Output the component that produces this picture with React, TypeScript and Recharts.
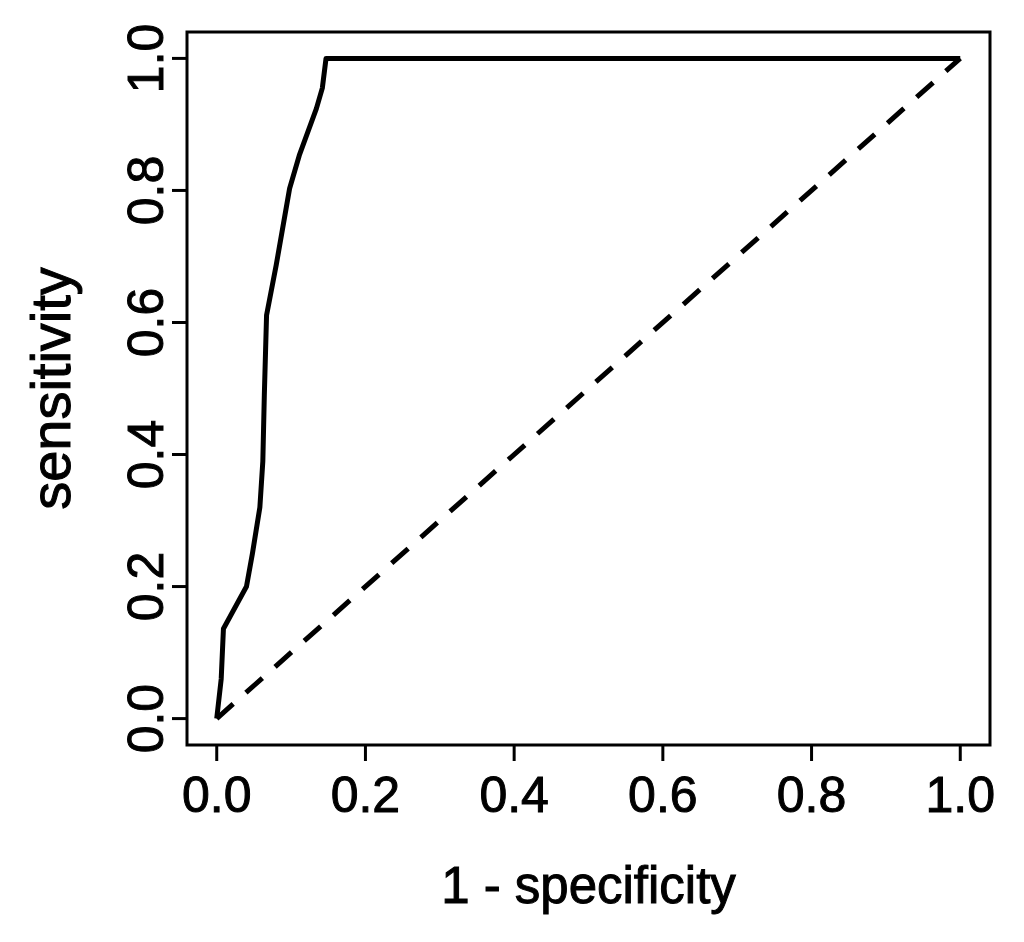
import React from 'react';
import { ComposedChart, Line, XAxis, YAxis, ReferenceArea } from 'recharts';

// ROC curve
const rocX = [0, 0.006, 0.009, 0.04, 0.048, 0.058, 0.062, 0.064, 0.067, 0.08, 0.098, 0.111, 0.134, 0.142, 0.147, 1.0];
const rocY = [0, 0.06, 0.136, 0.2, 0.25, 0.32, 0.39, 0.49, 0.611, 0.687, 0.803, 0.853, 0.924, 0.955, 1.0, 1.0];

const diagX = [0, 1];
const diagY = [0, 1];

const axisTicks = [0, 0.2, 0.4, 0.6, 0.8, 1.0];
const axisDomain = [-0.04, 1.04];

const xTitle = '1 - specificity';
const yTitle = 'sensitivity';

const FONT = '"Liberation Sans", Arial, Helvetica, sans-serif';
// the source is a blurry upscale, so glyphs read a little heavier than regular
const textInk = { fill: '#000', stroke: '#000', strokeWidth: 1 };

const rocData = rocX.map((x, i) => ({ x, y: rocY[i] }));
const diagData = diagX.map((x, i) => ({ x, y: diagY[i] }));

const XTick = ({ x, y, payload }: any) => (
  <text x={x} y={y} dy={49} textAnchor="middle" fontSize={50} fontFamily={FONT} {...textInk}>
    {Number(payload.value).toFixed(1)}
  </text>
);

const YTick = ({ x, y, payload }: any) => (
  <text
    x={x - 7}
    y={y}
    transform={`rotate(-90, ${x - 7}, ${y})`}
    textAnchor="middle"
    fontSize={50}
    fontFamily={FONT}
    {...textInk}
  >
    {Number(payload.value).toFixed(1)}
  </text>
);

export default function App() {
  return (
    <div style={{ position: 'absolute', left: 0, top: 0, background: '#fff' }}>
      <ComposedChart width={1024} height={942} margin={{ top: 32, right: 34, left: 0, bottom: 0 }}>
        <XAxis
          type="number"
          dataKey="x"
          domain={axisDomain}
          ticks={axisTicks}
          allowDataOverflow
          height={197}
          axisLine={false}
          tickSize={16}
          tickLine={{ stroke: '#000', strokeWidth: 3 }}
          tick={<XTick />}
          label={{
            content: ({ viewBox }: any) => (
              <text
                x={viewBox.x + viewBox.width / 2}
                y={903}
                textAnchor="middle"
                fontSize={51}
                fontFamily={FONT}
                {...textInk}
              >
                {xTitle}
              </text>
            ),
          }}
        />
        <YAxis
          type="number"
          dataKey="y"
          domain={axisDomain}
          ticks={axisTicks}
          allowDataOverflow
          width={187}
          axisLine={false}
          tickSize={15}
          tickLine={{ stroke: '#000', strokeWidth: 3 }}
          tick={<YTick />}
          label={{
            content: ({ viewBox }: any) => {
              const cy = viewBox.y + viewBox.height / 2;
              return (
                <text
                  x={70}
                  y={cy}
                  transform={`rotate(-90, 70, ${cy})`}
                  textAnchor="middle"
                  fontSize={56}
                  fontFamily={FONT}
                  {...textInk}
                >
                  {yTitle}
                </text>
              );
            },
          }}
        />
        <ReferenceArea
          x1={axisDomain[0]}
          x2={axisDomain[1]}
          y1={axisDomain[0]}
          y2={axisDomain[1]}
          fill="none"
          stroke="#000"
          strokeWidth={3}
          ifOverflow="visible"
        />
        <Line
          data={diagData}
          dataKey="y"
          type="linear"
          stroke="#000"
          strokeWidth={5}
          strokeDasharray="22 17"
          dot={false}
          isAnimationActive={false}
        />
        <Line
          data={rocData}
          dataKey="y"
          type="linear"
          stroke="#000"
          strokeWidth={5}
          strokeLinejoin="round"
          dot={false}
          isAnimationActive={false}
        />
      </ComposedChart>
    </div>
  );
}
